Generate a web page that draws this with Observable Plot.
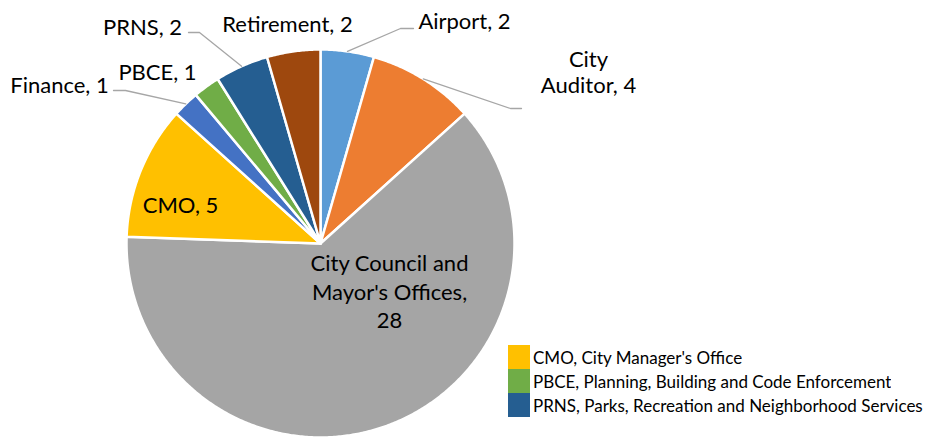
<!DOCTYPE html>
<html><head><meta charset="utf-8">
<script src="https://cdn.jsdelivr.net/npm/d3@7"></script>
<script src="https://cdn.jsdelivr.net/npm/@observablehq/plot@0.6"></script>
<style>
body{margin:0;background:#fff;}
#wrap{position:relative;width:929px;height:439px;overflow:hidden;}
#legend{position:absolute;left:508px;top:345px;}
.lg-swatches{margin:0 !important;font-family:Lato,sans-serif !important;font-size:17px !important;color:#000 !important;}
.lg-swatch{padding-bottom:0 !important;margin:0 !important;}
.lg-swatch svg{margin-right:3px !important;}
</style></head><body>
<div id="wrap"><div id="chart"></div><div id="legend"></div></div>
<script>
// ---- data ----
const categories = ["Airport","City Auditor","City Council and Mayor's Offices","CMO","Finance","PBCE","PRNS","Retirement"];
const values = [2, 4, 28, 5, 1, 1, 2, 2];
const colors = ["#5B9BD5","#ED7D31","#A5A5A5","#FFC000","#4472C4","#70AD47","#255E91","#9E480E"];
const labelTexts = ["Airport, 2","City\nAuditor, 4","City Council and\nMayor's Offices,\n28","CMO, 5","Finance, 1","PBCE, 1","PRNS, 2","Retirement, 2"];
const legendLabels = ["CMO, City Manager's Office","PBCE, Planning, Building and Code Enforcement","PRNS, Parks, Recreation and Neighborhood Services"];
const legendColors = ["#FFC000","#70AD47","#255E91"];

// ---- layout ----
const W = 929, H = 439, cx = 320, cy = 243, R = 194;
const labelLayout = [
  {x: 464, y: 20, leader: [[400, 28], [413, 28]]},
  {x: 588, y: 71, leader: [[510, 108], [521, 108]]},
  {x: 389, y: 290},
  {x: 180, y: 204},
  {x: 59, y: 84, leader: [[125, 90], [113, 90]]},
  {x: 157, y: 71},
  {x: 142, y: 26, leader: [[199, 32], [188, 32]]},
  {x: 287, y: 23.5}
];

const arcs = d3.pie().sort(null).value(d => d)(values);
const pt = (a, r) => [cx + r * Math.sin(a), cy - r * Math.cos(a)];

const slicePts = [];
arcs.forEach((a, i) => {
  slicePts.push({cat: categories[i], x: cx, y: cy});
  const n = Math.max(2, Math.ceil((a.endAngle - a.startAngle) / (Math.PI / 360)));
  for (let k = 0; k <= n; k++) {
    const t = a.startAngle + (a.endAngle - a.startAngle) * k / n;
    const [x, y] = pt(t, R);
    slicePts.push({cat: categories[i], x, y});
  }
});

const leaderPts = [];
arcs.forEach((a, i) => {
  const L = labelLayout[i];
  if (!L.leader) return;
  const [x0, y0] = pt((a.startAngle + a.endAngle) / 2, R);
  leaderPts.push({cat: categories[i], x: x0, y: y0});
  L.leader.forEach(([x, y]) => leaderPts.push({cat: categories[i], x, y}));
});

const labels = categories.map((c, i) => ({cat: c, text: labelTexts[i], x: labelLayout[i].x, y: labelLayout[i].y}));
const bigLabel = labels.filter(d => d.cat === "City Council and Mayor's Offices");
const otherLabels = labels.filter(d => d.cat !== "City Council and Mayor's Offices");

const chart = Plot.plot({
  width: W, height: H, margin: 0,
  x: {domain: [0, W], range: [0, W], axis: null},
  y: {domain: [0, H], range: [0, H], axis: null},
  color: {domain: categories, range: colors},
  style: {fontFamily: "Lato, sans-serif", background: "#fff"},
  marks: [
    Plot.line(slicePts, {x: "x", y: "y", z: "cat", fill: "cat", stroke: "#fff", strokeWidth: 2.5, strokeLinejoin: "round", curve: "linear-closed"}),
    Plot.line(leaderPts, {x: "x", y: "y", z: "cat", stroke: "#A6A6A6", strokeWidth: 1.3}),
    Plot.text(otherLabels, {x: "x", y: "y", text: "text", fontSize: 22, lineHeight: 1.2, fill: "#000"}),
    Plot.text(bigLabel, {x: "x", y: "y", text: "text", fontSize: 22, lineHeight: 1.3, fill: "#000"})
  ]
});
document.getElementById("chart").append(chart);

const legend = Plot.legend({
  color: {domain: legendLabels, range: legendColors},
  columns: 1, swatchWidth: 22, swatchHeight: 24, className: "lg"
});
document.getElementById("legend").append(legend);
</script>
</body></html>
